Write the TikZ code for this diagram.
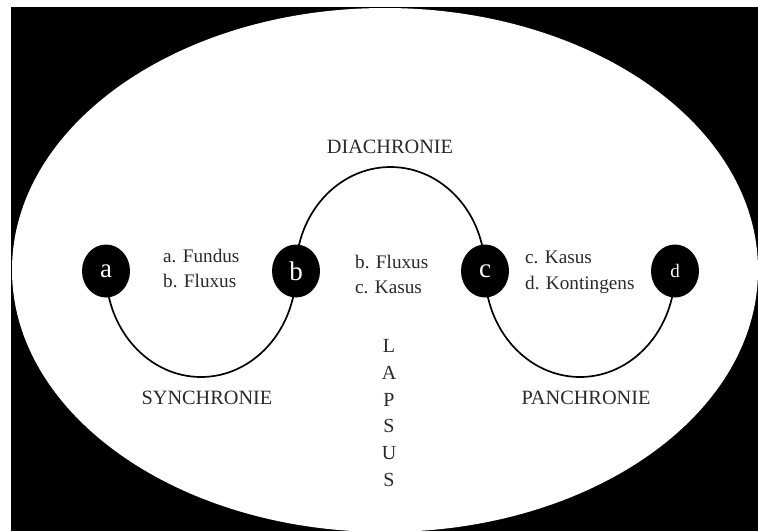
\documentclass[tikz,border=0pt]{standalone}
\usepackage{fontspec}
\setmainfont{Liberation Serif}
\usetikzlibrary{shapes.geometric}
\pgfdeclarelayer{bg}
\pgfdeclarelayer{arcs}
\pgfsetlayers{bg,arcs,main}
\definecolor{txt}{HTML}{2A2A2A}
\tikzset{
  dot/.style={ellipse, fill=black, draw=none, minimum width=48pt, minimum height=53pt, inner sep=0pt, text=white, font=\fontsize{27}{27}\selectfont},
  caps/.style={text=txt, font=\fontsize{20.3}{22}\selectfont, inner sep=0pt},
  pair/.style={text=txt, font=\fontsize{19.2}{25.5}\selectfont, align=left, anchor=west, inner sep=0pt},
  arcline/.style={line width=1.7pt, draw=black}
}
\begin{document}
\begin{tikzpicture}[x=1pt,y=-1pt]
\useasboundingbox (0,0) rectangle (758,531);
\begin{pgfonlayer}{bg}
  \fill[white] (0,0) rectangle (758,531);
  \fill[black] (11,7) rectangle (758,531);
  \fill[white] (385,270) ellipse [x radius=373pt, y radius=262pt];
\end{pgfonlayer}

\node[dot] (a) at (106,271) {a};
\node[dot] (b) at (296,271) {b};
\node[dot] (c) at (485,271) {c};
\node[dot, font=\fontsize{19}{19}\selectfont] (d) at (675,271) {d};

\begin{pgfonlayer}{arcs}
  \draw[arcline] (a.center) arc[start angle=180, end angle=360, x radius=95pt, y radius=106pt];
  \draw[arcline] (b.center) arc[start angle=180, end angle=0, x radius=94.5pt, y radius=104pt];
  \draw[arcline] (c.center) arc[start angle=180, end angle=360, x radius=95pt, y radius=106pt];
\end{pgfonlayer}

\node[pair] (t1) at (163,268.5) {a. Fundus\\b. Fluxus};
\node[pair] (t2) at (355,274.5) {b. Fluxus\\c. Kasus};
\node[pair] (t3) at (525,272.5) {c. Kasus\\d. Kontingens};

\node[caps] (dia) at (390,147) {DIACHRONIE};
\node[caps] (syn) at (207,398) {SYNCHRONIE};
\node[caps] (pan) at (586,398) {PANCHRONIE};
\node[caps, align=center, font=\fontsize{20}{26.8}\selectfont] (lap) at (389,413) {L\\A\\P\\S\\U\\S};
\end{tikzpicture}
\end{document}
